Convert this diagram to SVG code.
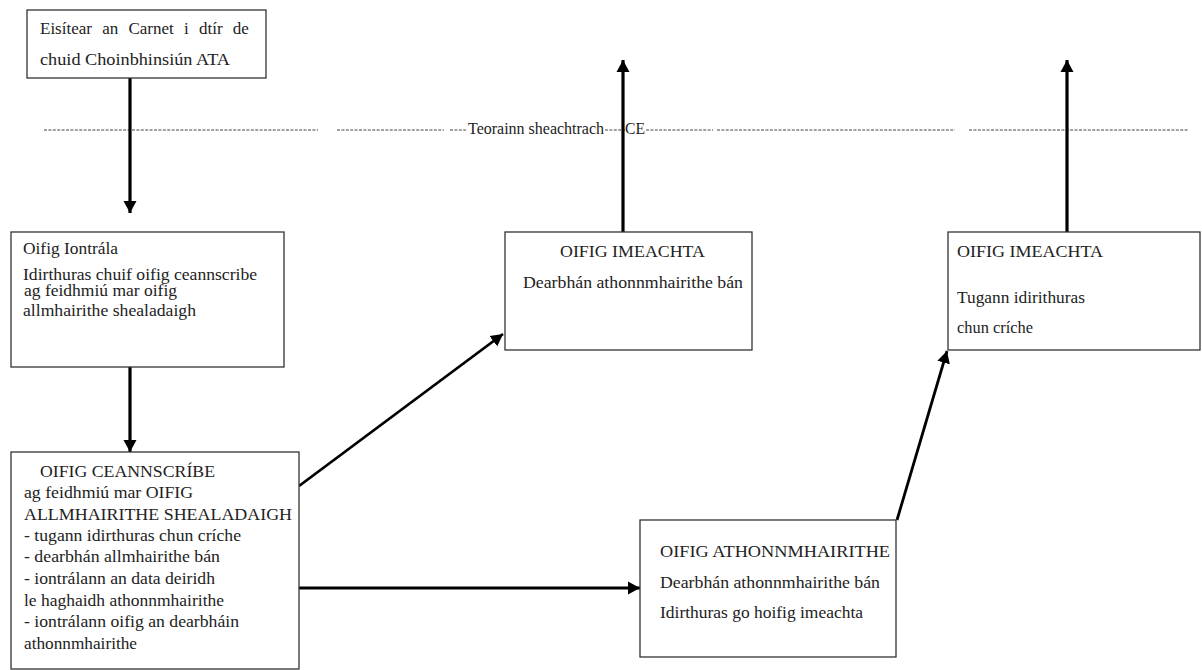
<svg xmlns="http://www.w3.org/2000/svg" width="1202" height="670" viewBox="0 0 1202 670">
<defs>
<style>
.box{fill:#fff;stroke:#333;stroke-width:1.3}
.t{font-family:'Liberation Serif','DejaVu Serif','Times New Roman',serif;font-size:17px;fill:#222}
.s{font-size:16px}
.dash{stroke:#444;stroke-width:1;stroke-dasharray:3 1.4;fill:none}
.arr{stroke:#000;stroke-width:3.2;fill:none;marker-end:url(#ah)}
.arr2{stroke:#000;stroke-width:2.8;fill:none;marker-end:url(#ah)}
</style>
<marker id="ah" markerUnits="userSpaceOnUse" markerWidth="14" markerHeight="14" refX="12" refY="7" orient="auto">
<path d="M0,0.5 L12,7 L0,13.5 z" fill="#000"/>
</marker>
</defs>
<rect width="1202" height="670" fill="#fff"/>

<g id="border">
<line class="dash" x1="44" y1="130" x2="318" y2="130"/>
<line class="dash" x1="337" y1="130" x2="444" y2="130"/>
<line class="dash" x1="450" y1="130" x2="466" y2="130"/>
<text class="t s" x="468" y="134" textLength="136" lengthAdjust="spacingAndGlyphs">Teorainn sheachtrach</text>
<line class="dash" x1="605" y1="130" x2="625" y2="130"/>
<text class="t s" x="625" y="134" textLength="20" lengthAdjust="spacingAndGlyphs">CE</text>
<line class="dash" x1="646" y1="130" x2="713" y2="130"/>
<line class="dash" x1="717" y1="130" x2="955" y2="130"/>
<line class="dash" x1="969" y1="130" x2="1189" y2="130"/>
</g>

<g id="connectors">
<line class="arr" x1="130" y1="78" x2="130" y2="213"/>
<line class="arr" x1="130" y1="367" x2="130" y2="452"/>
<line class="arr2" x1="299" y1="486" x2="503" y2="334"/>
<line class="arr" x1="299" y1="588" x2="640" y2="588"/>
<line class="arr" x1="623" y1="232" x2="623" y2="60"/>
<line class="arr" x1="1067" y1="232" x2="1067" y2="60"/>
<line class="arr2" x1="897" y1="520" x2="947" y2="351"/>
</g>

<g id="n1">
<rect class="box" x="27" y="10" width="239" height="68"/>
<text class="t" x="40" y="34" word-spacing="6">Eisítear an Carnet i dtír de</text>
<text class="t" x="40" y="65" textLength="190" lengthAdjust="spacingAndGlyphs">chuid Choinbhinsiún ATA</text>
</g>

<g id="n2">
<rect class="box" x="11" y="232" width="273" height="135"/>
<text class="t" x="23" y="254" textLength="95" lengthAdjust="spacingAndGlyphs">Oifig Iontrála</text>
<text class="t s" x="23" y="280" textLength="234" lengthAdjust="spacingAndGlyphs">Idirthuras chuif oifig ceannscribe</text>
<text class="t s" x="24" y="296" textLength="153" lengthAdjust="spacingAndGlyphs">ag feidhmiú mar oifig</text>
<text class="t" x="23" y="316" textLength="173" lengthAdjust="spacingAndGlyphs">allmhairithe shealadaigh</text>
</g>

<g id="n3">
<rect class="box" x="11" y="452" width="288" height="217"/>
<text class="t" x="40" y="477" textLength="175" lengthAdjust="spacingAndGlyphs">OIFIG CEANNSCRÍBE</text>
<text class="t" x="24" y="498" textLength="169" lengthAdjust="spacingAndGlyphs">ag feidhmiú mar OIFIG</text>
<text class="t" x="24" y="520" textLength="268" lengthAdjust="spacingAndGlyphs">ALLMHAIRITHE SHEALADAIGH</text>
<text class="t" x="24" y="541" textLength="217" lengthAdjust="spacingAndGlyphs">- tugann idirthuras chun críche</text>
<text class="t" x="24" y="562" textLength="196" lengthAdjust="spacingAndGlyphs">- dearbhán allmhairithe bán</text>
<text class="t" x="24" y="584" textLength="191" lengthAdjust="spacingAndGlyphs">- iontrálann an data deiridh</text>
<text class="t" x="24" y="606" textLength="200" lengthAdjust="spacingAndGlyphs">le haghaidh athonnmhairithe</text>
<text class="t" x="24" y="627" textLength="215" lengthAdjust="spacingAndGlyphs">- iontrálann oifig an dearbháin</text>
<text class="t" x="24" y="649" textLength="113" lengthAdjust="spacingAndGlyphs">athonnmhairithe</text>
</g>

<g id="n4">
<rect class="box" x="505" y="232" width="247" height="118"/>
<text class="t" x="560" y="257" textLength="145" lengthAdjust="spacingAndGlyphs">OIFIG IMEACHTA</text>
<text class="t" x="523" y="288" textLength="220" lengthAdjust="spacingAndGlyphs">Dearbhán athonnmhairithe bán</text>
</g>

<g id="n5">
<rect class="box" x="640" y="520" width="256" height="137"/>
<text class="t" x="660" y="557" textLength="230" lengthAdjust="spacingAndGlyphs">OIFIG ATHONNMHAIRITHE</text>
<text class="t" x="660" y="588" textLength="220" lengthAdjust="spacingAndGlyphs">Dearbhán athonnmhairithe bán</text>
<text class="t" x="660" y="618" textLength="203" lengthAdjust="spacingAndGlyphs">Idirthuras go hoifig imeachta</text>
</g>

<g id="n6">
<rect class="box" x="948" y="232" width="252" height="118"/>
<text class="t" x="957" y="257" textLength="146" lengthAdjust="spacingAndGlyphs">OIFIG IMEACHTA</text>
<text class="t" x="957" y="303" textLength="128" lengthAdjust="spacingAndGlyphs">Tugann idirithuras</text>
<text class="t" x="957" y="333" textLength="76" lengthAdjust="spacingAndGlyphs">chun críche</text>
</g>
</svg>
